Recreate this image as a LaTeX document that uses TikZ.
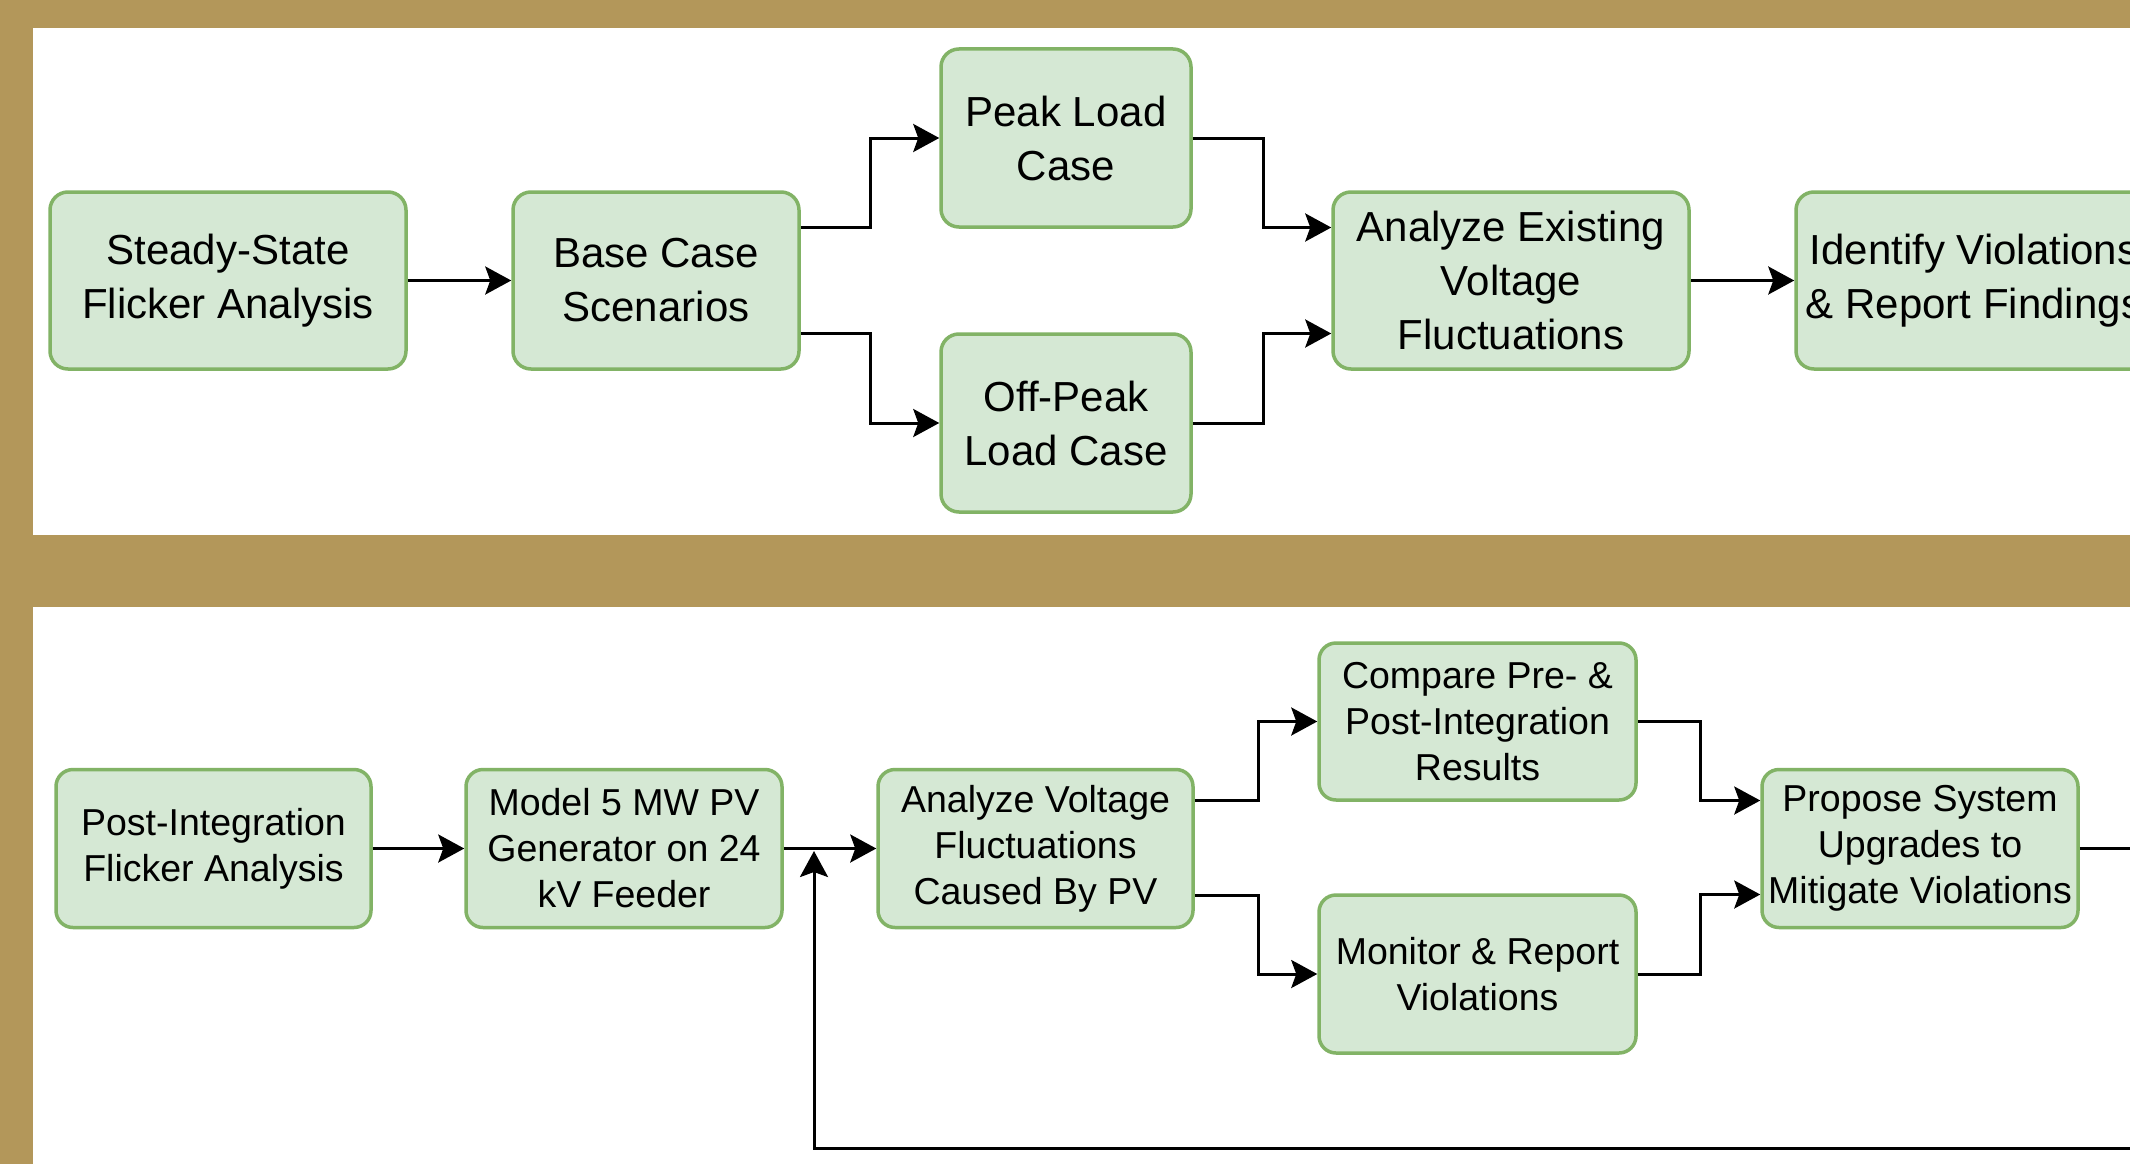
\documentclass[tikz,border=0pt]{standalone}
\usepackage{fontspec}
\setmainfont{Liberation Sans}
\usetikzlibrary{arrows.meta}
\definecolor{gold}{HTML}{B3975A}
\definecolor{boxfill}{HTML}{D5E8D4}
\definecolor{boxdraw}{HTML}{82B366}
\tikzset{
  topbox/.style={draw=boxdraw, fill=boxfill, line width=3.5pt, rounded corners=18pt,
    align=center, inner sep=0pt, minimum height=177pt,
    font=\fontsize{42}{54}\selectfont},
  botbox/.style={draw=boxdraw, fill=boxfill, line width=3.5pt, rounded corners=17pt,
    align=center, inner sep=0pt, minimum height=158pt, minimum width=316pt,
    font=\fontsize{37.5}{46}\selectfont},
  conn/.style={line width=3pt, -{Stealth[length=26pt,width=28pt,inset=5pt]}},
  plainline/.style={line width=3pt}
}
\begin{document}
\begin{tikzpicture}[x=1pt,y=-1pt]
\useasboundingbox (0,0) rectangle (2130,1164);
\clip (0,0) rectangle (2130,1164);
% frame
\fill[gold] (0,0) rectangle (2130,1164);
\fill[white] (33,28) rectangle (2140,535);
\fill[white] (33,607) rectangle (2140,1170);

% top row
\node[topbox, minimum width=356pt] (s1) at (228,280.5) {Steady-State\\Flicker Analysis};
\node[topbox, minimum width=286pt] (s2) at (656,280.5) {Base Case\\Scenarios};
\node[topbox, minimum width=250pt, minimum height=178pt] (s3) at (1066,138) {Peak Load\\Case};
\node[topbox, minimum width=250pt, minimum height=178pt] (s4) at (1066,423) {Off-Peak\\Load Case};
\node[topbox, minimum width=356pt] (s5) at (1511,280.5) {Analyze Existing\\Voltage\\Fluctuations};
\node[topbox, minimum width=356pt] (s6) at (1974,280.5) {Identify Violations\\\& Report Findings};

\draw[conn] (s1.east) -- (s2.west);
\draw[conn] ([yshift=53pt]s2.east) -- ++(70,0) |- (s3.west);
\draw[conn] ([yshift=-53pt]s2.east) -- ++(70,0) |- (s4.west);
\draw[conn] (s3.east) -- ++(71,0) |- ([yshift=53pt]s5.west);
\draw[conn] (s4.east) -- ++(71,0) |- ([yshift=-53pt]s5.west);
\draw[conn] (s5.east) -- (s6.west);

% bottom row
\node[botbox, minimum width=315pt] (b1) at (213.5,848.5) {Post-Integration\\Flicker Analysis};
\node[botbox] (b2) at (624,848.5) {Model 5 MW PV\\Generator on 24\\kV Feeder};
\node[botbox, minimum width=315pt] (b3) at (1035.5,848.5) {Analyze Voltage\\Fluctuations\\Caused By PV};
\node[botbox, minimum width=317pt, minimum height=157pt] (b4) at (1477.5,721.5) {Compare Pre- \&\\Post-Integration\\Results};
\node[botbox, minimum width=317pt] (b5) at (1477.5,974) {Monitor \& Report\\Violations};
\node[botbox] (b6) at (1920,848.5) {Propose System\\Upgrades to\\Mitigate Violations};

\draw[conn] (b1.east) -- (b2.west);
\draw[conn] (b2.east) -- (b3.west);
\draw[conn] ([yshift=48pt]b3.east) -- ++(64,0) |- (b4.west);
\draw[conn] ([yshift=-47pt]b3.east) -- ++(64,0) |- (b5.west);
\draw[conn] (b4.east) -- ++(63,0) |- ([yshift=48pt]b6.west);
\draw[conn] (b5.east) -- ++(63,0) |- ([yshift=-46pt]b6.west);

\coordinate (loopc) at (814,1148);
\coordinate (fb) at (814,851);
\draw[conn] (b6.east) -- ++(150,0) |- (loopc) -- (fb);
\end{tikzpicture}
\end{document}
